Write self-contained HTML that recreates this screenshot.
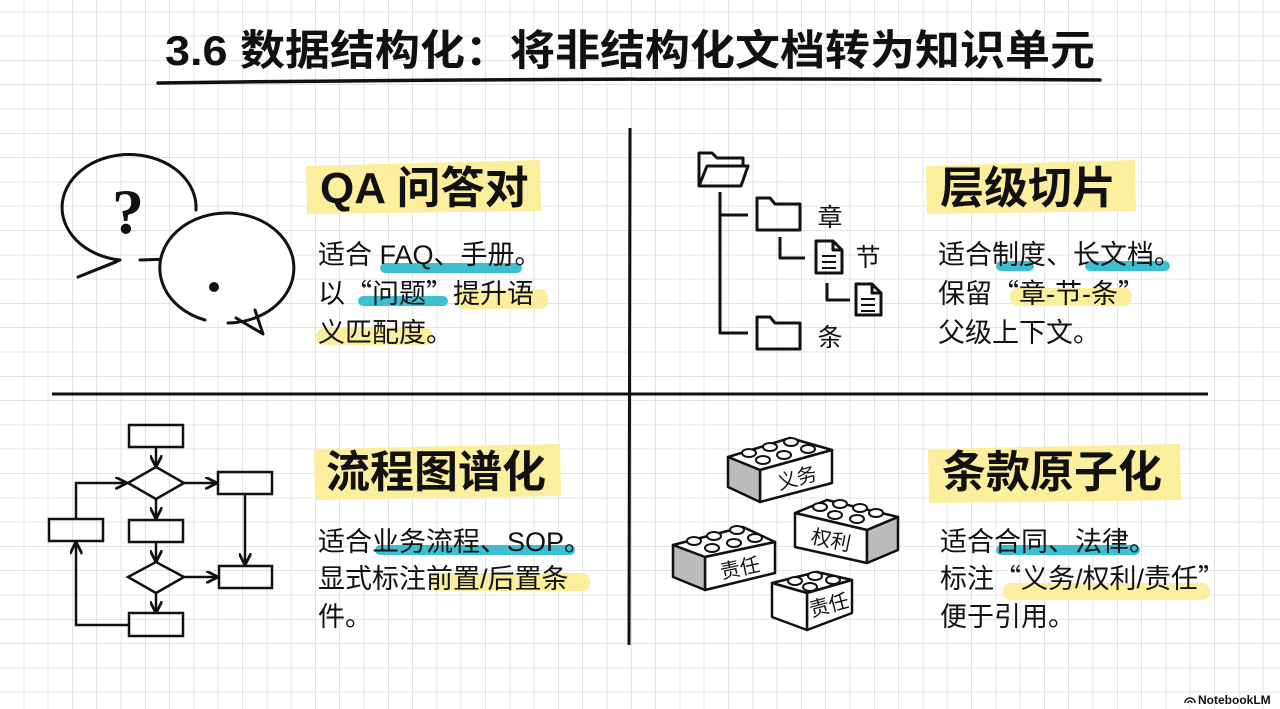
<!DOCTYPE html>
<html><head><meta charset="utf-8"><style>
html,body{margin:0;padding:0;width:1280px;height:709px;overflow:hidden;background:#fff}
body{background-image:repeating-linear-gradient(90deg,transparent 0,transparent 23.3px,#e4e4e4 23.3px,#e4e4e4 24.3px),repeating-linear-gradient(0deg,transparent 0,transparent 23.3px,#e4e4e4 23.3px,#e4e4e4 24.3px);background-position:0 7px}
svg{position:absolute;left:0;top:0}
text{font-family:"Liberation Sans","Noto Sans CJK SC",sans-serif;fill:#111}
.t{font-size:44px;font-weight:bold}
.b{font-size:27px}
.q{font-family:"Noto Sans CJK SC",sans-serif}
</style></head><body>
<svg width="1280" height="709" viewBox="0 0 1280 709">
<defs><marker id="a" viewBox="0 0 10 10" refX="9" refY="5" markerWidth="5" markerHeight="5" orient="auto"><path d="M0,0 L10,5 L0,10" fill="none" stroke="#111" stroke-width="2.2"/></marker></defs>
<!-- title -->
<text x="165" y="65" textLength="930" lengthAdjust="spacingAndGlyphs" style="font-size:42px;font-weight:bold">3.6 数据结构化：将非结构化文档转为知识单元</text>
<path d="M158,83 Q600,77 1100,80" stroke="#111" stroke-width="3.5" fill="none" stroke-linecap="round"/>
<!-- dividers -->
<path d="M630,128 L629,645" stroke="#111" stroke-width="3" fill="none"/>
<path d="M52,394 Q600,392 1208,394" stroke="#111" stroke-width="3" fill="none"/>

<!-- highlights -->
<g fill="#fbee9c">
<path d="M306,166 L540,160 L541,211 L307,214Z"/>
<path d="M926,166 L1135,160 L1136,211 L927,214Z"/>
<path d="M314,449 L560,444 L561,496 L315,500Z"/>
<path d="M928,449 L1180,444 L1181,500 L929,503Z"/>
<rect x="456" y="289" width="92" height="20" rx="8"/>
<rect x="316" y="328" width="117" height="17" rx="8"/>
<rect x="1010" y="288" width="122" height="18" rx="8"/>
<rect x="430" y="573" width="160" height="18" rx="8"/>
<rect x="1003" y="583" width="207" height="17" rx="8"/>
</g>
<g fill="#3cbfd2">
<rect x="380" y="263" width="142" height="10" rx="5"/>
<rect x="358" y="296" width="90" height="10" rx="5"/>
<rect x="996" y="261" width="38" height="10" rx="5"/>
<rect x="1085" y="261" width="85" height="10" rx="5"/>
<rect x="375" y="545" width="200" height="10" rx="5"/>
<rect x="996" y="545" width="144" height="10" rx="5"/>
</g>

<!-- texts -->
<text class="t" x="320" y="203">QA 问答对</text>
<text class="b" x="318" y="264">适合 FAQ、手册。</text>
<text class="b" x="318" y="303">以<tspan class="q">“</tspan>问题<tspan class="q">”</tspan>提升语</text>
<text class="b" x="318" y="342">义匹配度。</text>

<text class="t" x="940" y="203">层级切片</text>
<text class="b" x="938" y="264">适合制度、长文档。</text>
<text class="b" x="938" y="303">保留<tspan class="q">“</tspan>章-节-条<tspan class="q">”</tspan></text>
<text class="b" x="938" y="342">父级上下文。</text>

<text class="t" x="326" y="487">流程图谱化</text>
<text class="b" x="318" y="551">适合业务流程、SOP。</text>
<text class="b" x="318" y="588">显式标注前置/后置条</text>
<text class="b" x="318" y="626">件。</text>

<text class="t" x="942" y="487">条款原子化</text>
<text class="b" x="940" y="551">适合合同、法律。</text>
<text class="b" x="940" y="588">标注<tspan class="q">“</tspan>义务/权利/责任<tspan class="q">”</tspan></text>
<text class="b" x="940" y="626">便于引用。</text>

<!-- speech bubbles -->
<g stroke="#111" stroke-width="3" fill="none" stroke-linecap="round" stroke-linejoin="round">
<path d="M196,210 A67,53 0 1 0 120,260 L78,277 L116,262"/>
<path d="M170,259 L140,260"/>
<path d="M228,323 A67,55 0 1 0 205,320" fill="#fff"/>
<path d="M236,318 L263,334 L255,310"/>
</g>
<text x="128" y="233" text-anchor="middle" style="font-size:64px;font-family:'Liberation Serif',serif;font-weight:bold">?</text>
<circle cx="214" cy="287" r="5" fill="#111"/>

<!-- folder tree -->
<g stroke="#111" stroke-width="3" fill="none" stroke-linejoin="round">
<path d="M699,186 L699,153 L712,153 L717,158 L743,158 L743,166"/>
<path d="M699,186 L707,166 L748,166 L741,186 Z"/>
<path d="M720,192 L720,333 L748,333 M720,215 L748,215"/>
<path d="M757,230 L757,198 L770,198 L775,204 L800,204 L800,230 Z"/>
<path d="M757,349 L757,317 L770,317 L775,323 L800,323 L800,349 Z"/>
<path d="M780,237 L780,258 L805,258"/>
<path d="M816,241 L833,241 L842,250 L842,273 L816,273 Z M833,241 L833,250 L842,250"/>
<path d="M827,283 L827,300 L850,300"/>
<path d="M856,284 L872,284 L881,293 L881,315 L856,315 Z M872,284 L872,293 L881,293"/>
</g>
<g stroke="#111" stroke-width="2"><path d="M822,256h14M822,262h14M822,268h14M861,299h14M861,305h14M861,311h14"/></g>
<text x="830" y="226" style="font-size:25px" text-anchor="middle">章</text>
<text x="868" y="266" style="font-size:25px" text-anchor="middle">节</text>
<text x="830" y="346" style="font-size:25px" text-anchor="middle">条</text>

<!-- flowchart -->
<g stroke="#111" stroke-width="2.5" fill="none">
<rect x="129" y="425" width="54" height="22"/>
<path d="M128,483 L156,467 L184,483 L156,499 Z"/>
<rect x="218" y="472" width="54" height="22"/>
<rect x="49" y="519" width="54" height="22"/>
<rect x="129" y="520" width="54" height="22"/>
<path d="M128,577 L156,562 L184,577 L156,593 Z"/>
<rect x="219" y="566" width="53" height="22"/>
<rect x="129" y="613" width="54" height="23"/>
<path d="M156,447 L156,466" marker-end="url(#a)"/>
<path d="M184,483 L216,483" marker-end="url(#a)"/>
<path d="M156,499 L156,518" marker-end="url(#a)"/>
<path d="M156,542 L156,561" marker-end="url(#a)"/>
<path d="M184,577 L217,577" marker-end="url(#a)"/>
<path d="M156,593 L156,612" marker-end="url(#a)"/>
<path d="M245,494 L245,564" marker-end="url(#a)"/>
<path d="M76,519 L76,483 L126,483" marker-end="url(#a)"/>
<path d="M129,625 L76,625 L76,543" marker-end="url(#a)"/>
</g>

<!-- legos -->
<g stroke="#111" stroke-width="2.5" stroke-linejoin="round">
<path d="M728,457 L790,438 L832,450 L760,470 Z" fill="#fff"/>
<path d="M760,470 L832,450 L832,483 L760,502 Z" fill="#fff"/>
<path d="M728,457 L760,470 L760,502 L728,487 Z" fill="#bbb"/>
<path d="M795,513 L827,500 L898,517 L867,530 Z" fill="#fff"/>
<path d="M795,513 L867,530 L867,563 L795,547 Z" fill="#fff"/>
<path d="M867,530 L898,517 L898,550 L867,563 Z" fill="#bbb"/>
<path d="M673,545 L743,527 L775,542 L705,557 Z" fill="#fff"/>
<path d="M705,557 L775,542 L775,573 L705,590 Z" fill="#fff"/>
<path d="M673,545 L705,557 L705,590 L673,577 Z" fill="#bbb"/>
<path d="M772,583 L817,572 L852,580 L807,593 Z" fill="#fff"/>
<path d="M807,593 L852,580 L852,613 L807,630 Z" fill="#fff"/>
<path d="M772,583 L807,593 L807,630 L772,617 Z" fill="#fff"/>
</g>
<g stroke="#111" stroke-width="2" fill="#fff">
<ellipse cx="749" cy="453" rx="7" ry="4"/><ellipse cx="770" cy="447" rx="7" ry="4"/><ellipse cx="791" cy="442" rx="7" ry="4"/><ellipse cx="763" cy="460" rx="7" ry="4"/><ellipse cx="784" cy="455" rx="7" ry="4"/><ellipse cx="808" cy="449" rx="7" ry="4"/>
<ellipse cx="820" cy="507" rx="7" ry="4"/><ellipse cx="840" cy="504" rx="7" ry="4"/><ellipse cx="860" cy="508" rx="7" ry="4"/><ellipse cx="876" cy="513" rx="7" ry="4"/><ellipse cx="835" cy="515" rx="7" ry="4"/><ellipse cx="857" cy="519" rx="7" ry="4"/>
<ellipse cx="694" cy="541" rx="7" ry="4"/><ellipse cx="714" cy="536" rx="7" ry="4"/><ellipse cx="737" cy="530" rx="7" ry="4"/><ellipse cx="712" cy="548" rx="7" ry="4"/><ellipse cx="734" cy="543" rx="7" ry="4"/><ellipse cx="755" cy="538" rx="7" ry="4"/>
<ellipse cx="795" cy="581" rx="7" ry="4"/><ellipse cx="815" cy="576" rx="7" ry="4"/><ellipse cx="833" cy="580" rx="7" ry="4"/><ellipse cx="810" cy="587" rx="7" ry="4"/>
</g>
<text x="797" y="485" transform="rotate(-15 797 478)" text-anchor="middle" style="font-size:20px">义务</text>
<text x="831" y="547" transform="rotate(12 831 540)" text-anchor="middle" style="font-size:20px">权利</text>
<text x="740" y="575" transform="rotate(-12 740 568)" text-anchor="middle" style="font-size:20px">责任</text>
<text x="829" y="612" transform="rotate(-15 829 605)" text-anchor="middle" style="font-size:20px">责任</text>

<!-- logo -->
<g stroke="#222" stroke-width="1.6" fill="none"><path d="M1185,703 a5,5 0 0 1 10,0 M1188,703 a2,2 0 0 1 4,0"/></g>
<text x="1198" y="704" style="font-size:12px;font-weight:bold">NotebookLM</text>
</svg>
</body></html>
